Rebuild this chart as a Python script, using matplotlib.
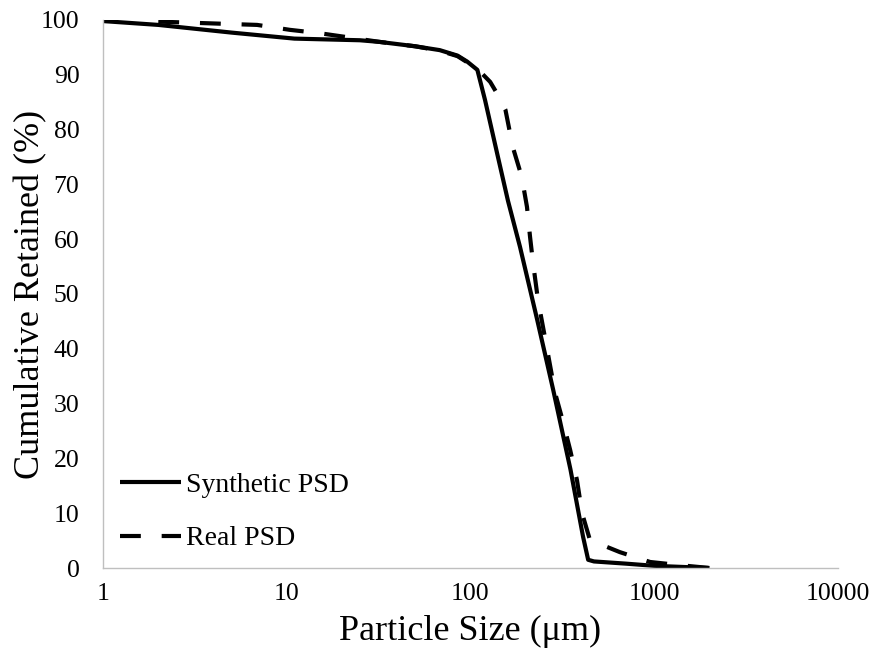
import matplotlib
matplotlib.use("Agg")
import matplotlib.pyplot as plt
import numpy as np

# Data
synthetic_size = [1, 2, 5, 11, 25, 32, 50, 68, 85, 96, 109, 120, 140, 160, 186, 230, 282, 350, 410, 437, 470, 700, 1000, 2000]
synthetic_ret = [99.8, 99.1, 97.7, 96.6, 96.3, 96.0, 95.2, 94.5, 93.5, 92.4, 90.9, 85.4, 75.5, 67.0, 58.6, 45.5, 32.5, 18.0, 5.7, 1.5, 1.2, 0.8, 0.4, 0.0]

real_size = [2, 6.9, 10.4, 15, 22, 32, 50, 68, 85, 100, 115, 128, 140, 155, 170, 190, 203, 211, 219, 233, 250, 289, 317, 349, 380, 405, 447, 650, 950, 1400, 2000]
real_ret = [99.7, 99.1, 98.2, 97.6, 96.8, 96.0, 95.2, 94.4, 93.4, 91.9, 90.3, 88.7, 86.5, 83.6, 76.8, 71.4, 65.9, 60.4, 55.7, 48.9, 43.4, 31.9, 27.0, 21.5, 16.0, 10.0, 5.1, 2.9, 1.1, 0.5, 0.0]

x_ticks = [1, 10, 100, 1000, 10000]
x_ticklabels = ["1", "10", "100", "1000", "10000"]
y_ticks = [0, 10, 20, 30, 40, 50, 60, 70, 80, 90, 100]

plt.rcParams['font.family'] = ['Liberation Serif', 'DejaVu Serif']

fig = plt.figure(figsize=(8.78, 6.55), dpi=100)
ax = fig.add_axes([0.1173, 0.1328, 0.9544 - 0.1173, 0.9695 - 0.1328])

ax.plot(synthetic_size, synthetic_ret, color='black', lw=3, solid_capstyle='butt', label='Synthetic PSD')
ax.plot(real_size, real_ret, color='black', lw=3, linestyle=(0, (5, 5)), dash_capstyle='butt', label='Real PSD')

ax.set_xscale('log')
ax.set_xlim(1, 10000)
ax.set_ylim(0, 100)
ax.set_xticks(x_ticks)
ax.set_xticklabels(x_ticklabels)
ax.minorticks_off()
ax.set_yticks(y_ticks)
ax.tick_params(axis='both', length=0, labelsize=18.5)
ax.tick_params(axis='x', pad=11)
ax.tick_params(axis='y', pad=17)

for s in ['top', 'right']:
    ax.spines[s].set_visible(False)
for s in ['left', 'bottom']:
    ax.spines[s].set_color('#BFBFBF')
    ax.spines[s].set_linewidth(1)

ax.set_xlabel('Particle Size (μm)', fontsize=26, labelpad=7)
ax.set_ylabel('Cumulative Retained (%)', fontsize=26)
ax.yaxis.set_label_coords(-0.076, 0.5)

ax.legend(loc='lower left', bbox_to_anchor=(0.0, 0.0), frameon=False, fontsize=20,
          handlelength=2.2, handletextpad=0.2, labelspacing=1.0, borderaxespad=0.2)

fig.savefig('out.png', dpi=100)
